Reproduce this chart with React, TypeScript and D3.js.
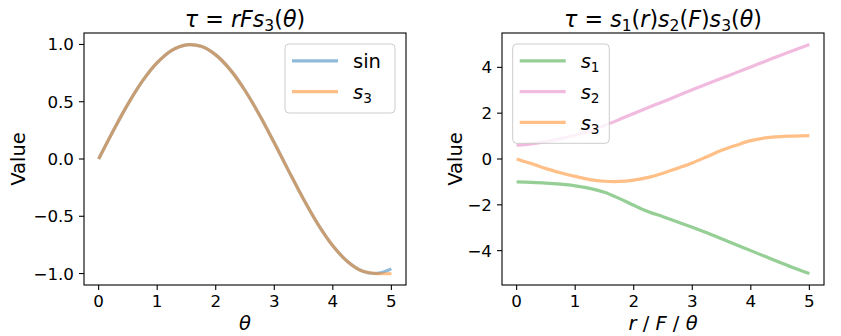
import React from "react";
import * as d3 from "d3";

// ---------- data ----------
const xValues = [0, 0.25, 0.5, 0.75, 1, 1.25, 1.5, 1.75, 2, 2.25, 2.5, 2.75, 3, 3.25, 3.5, 3.75, 4, 4.25, 4.5, 4.75, 5];
const sinValues = [0, 0.247, 0.479, 0.682, 0.841, 0.949, 0.997, 0.984, 0.909, 0.778, 0.598, 0.382, 0.141, -0.108, -0.351, -0.572, -0.757, -0.895, -0.978, -0.999, -0.959];
const s3LeftValues = [0, 0.247, 0.479, 0.682, 0.841, 0.949, 0.997, 0.984, 0.909, 0.778, 0.598, 0.382, 0.141, -0.108, -0.351, -0.572, -0.757, -0.895, -0.978, -1.0, -1.0];
const s1Values = [-1.0, -1.02, -1.05, -1.1, -1.17, -1.28, -1.45, -1.72, -2.02, -2.3, -2.52, -2.75, -2.98, -3.22, -3.48, -3.74, -4.0, -4.26, -4.52, -4.77, -5.0];
const s2Values = [0.6, 0.66, 0.76, 0.89, 1.04, 1.22, 1.46, 1.72, 1.99, 2.25, 2.5, 2.76, 3.02, 3.27, 3.52, 3.77, 4.02, 4.27, 4.52, 4.76, 5.0];
const s3RightValues = [0.0, -0.2, -0.42, -0.6, -0.76, -0.9, -0.97, -0.98, -0.92, -0.8, -0.62, -0.4, -0.17, 0.1, 0.38, 0.6, 0.8, 0.92, 0.98, 1.0, 1.02];

const xTicks = [0, 1, 2, 3, 4, 5];
const leftYTicks = [-1, -0.5, 0, 0.5, 1];
const rightYTicks = [-4, -2, 0, 2, 4];

const BLUE = "#1f77b4";
const ORANGE = "#ff7f0e";
const GREEN = "#2ca02c";
const PINK = "#e377c2";

const FONT = "DejaVu Sans";

type Seg = { t: string; it?: boolean; sub?: boolean };

function MathText({ x, y, size, segs, anchor = "middle" }: { x: number; y: number; size: number; segs: Seg[]; anchor?: string }) {
  const out: React.ReactNode[] = [];
  let inSub = false;
  segs.forEach((s, i) => {
    let dy = 0;
    if (s.sub && !inSub) { dy = size * 0.2; inSub = true; }
    else if (!s.sub && inSub) { dy = -size * 0.2; inSub = false; }
    out.push(
      <tspan key={i} dy={dy} fontStyle={s.it ? "italic" : "normal"} fontSize={s.sub ? size * 0.7 : size}>
        {s.t}
      </tspan>
    );
  });
  return (
    <text x={x} y={y} textAnchor={anchor as any} fontFamily={FONT} fontSize={size} fill="#000" style={{ whiteSpace: "pre" }}>
      {out}
    </text>
  );
}

type Series = { vals: number[]; color: string };

function Panel({
  x0, x1, y0, y1, yDomain, yTicks, fmt, series, title, xlabel, ylabelX, legend, legendBox,
}: {
  x0: number; x1: number; y0: number; y1: number; yDomain: [number, number]; yTicks: number[];
  fmt: (v: number) => string; series: Series[]; title: Seg[]; xlabel: Seg[]; ylabelX: number;
  legend: { label: Seg[]; color: string }[]; legendBox: { x: number; y: number; w: number; h: number };
}) {
  const xs = d3.scaleLinear().domain([-0.25, 5.25]).range([x0, x1]);
  const ys = d3.scaleLinear().domain(yDomain).range([y1, y0]);
  const line = d3.line<number>()
    .x((_, i) => xs(xValues[i]))
    .y((d) => ys(d))
    .curve(d3.curveCatmullRom);
  const tickFs = 16.7;
  const cx = (x0 + x1) / 2;
  return (
    <g>
      {series.map((s, i) => (
        <path key={i} d={line(s.vals) || ""} fill="none" stroke={s.color} strokeOpacity={0.5} strokeWidth={3.2} />
      ))}
      <rect x={x0} y={y0} width={x1 - x0} height={y1 - y0} fill="none" stroke="#000" strokeWidth={1.1} />
      {xTicks.map((t) => (
        <g key={"x" + t}>
          <line x1={xs(t)} x2={xs(t)} y1={y1} y2={y1 + 5} stroke="#000" strokeWidth={1.1} />
          <text x={xs(t)} y={y1 + 21.5} textAnchor="middle" fontFamily={FONT} fontSize={tickFs}>{String(t)}</text>
        </g>
      ))}
      {yTicks.map((t) => (
        <g key={"y" + t}>
          <line x1={x0 - 5} x2={x0} y1={ys(t)} y2={ys(t)} stroke="#000" strokeWidth={1.1} />
          <text x={x0 - 10} y={ys(t) + 6} textAnchor="end" fontFamily={FONT} fontSize={tickFs}>{fmt(t)}</text>
        </g>
      ))}
      <text transform={`translate(${ylabelX},${(y0 + y1) / 2}) rotate(-90)`} textAnchor="middle" fontFamily={FONT} fontSize={19.5}>Value</text>
      <MathText x={cx} y={y1 + 45} size={19.5} segs={xlabel} />
      <MathText x={cx} y={27} size={22.2} segs={title} />
      <rect x={legendBox.x} y={legendBox.y} width={legendBox.w} height={legendBox.h} rx={4} fill="#fff" fillOpacity={0.8} stroke="#cccccc" strokeWidth={1} />
      {legend.map((l, i) => {
        const ly = legendBox.y + 16.8 + i * 30.8;
        return (
          <g key={i}>
            <line x1={legendBox.x + 7} x2={legendBox.x + 53} y1={ly} y2={ly} stroke={l.color} strokeOpacity={0.5} strokeWidth={3.2} />
            <MathText x={legendBox.x + 68} y={ly + 7.5} size={19.5} segs={l.label} anchor="start" />
          </g>
        );
      })}
    </g>
  );
}

export default function App() {
  const fmt1 = (v: number) => (v < 0 ? "\u2212" : "") + Math.abs(v).toFixed(1);
  const fmt0 = (v: number) => (v < 0 ? "\u2212" : "") + Math.abs(v).toFixed(0);
  return (
    <svg width={841} height={336} style={{ position: "absolute", left: 0, top: 0, background: "#fff" }}>
      <rect width={841} height={336} fill="#fff" />
      <Panel
        x0={84} x1={406} y0={33} y1={285}
        yDomain={[-1.1, 1.1]} yTicks={leftYTicks} fmt={fmt1}
        series={[{ vals: sinValues, color: BLUE }, { vals: s3LeftValues, color: ORANGE }]}
        title={[{ t: "τ", it: true }, { t: " = " }, { t: "rFs", it: true }, { t: "3", sub: true }, { t: "(" }, { t: "θ", it: true }, { t: ")" }]}
        xlabel={[{ t: "θ", it: true }]}
        ylabelX={25}
        legend={[
          { label: [{ t: "sin" }], color: BLUE },
          { label: [{ t: "s", it: true }, { t: "3", sub: true }], color: ORANGE },
        ]}
        legendBox={{ x: 285, y: 44, w: 110, h: 69 }}
      />
      <Panel
        x0={502} x1={824} y0={33} y1={285}
        yDomain={[-5.5, 5.5]} yTicks={rightYTicks} fmt={fmt0}
        series={[{ vals: s1Values, color: GREEN }, { vals: s2Values, color: PINK }, { vals: s3RightValues, color: ORANGE }]}
        title={[
          { t: "τ", it: true }, { t: " = " }, { t: "s", it: true }, { t: "1", sub: true }, { t: "(" }, { t: "r", it: true }, { t: ")" },
          { t: "s", it: true }, { t: "2", sub: true }, { t: "(" }, { t: "F", it: true }, { t: ")" },
          { t: "s", it: true }, { t: "3", sub: true }, { t: "(" }, { t: "θ", it: true }, { t: ")" },
        ]}
        xlabel={[{ t: "r", it: true }, { t: " / " }, { t: "F", it: true }, { t: " / " }, { t: "θ", it: true }]}
        ylabelX={461.7}
        legend={[
          { label: [{ t: "s", it: true }, { t: "1", sub: true }], color: GREEN },
          { label: [{ t: "s", it: true }, { t: "2", sub: true }], color: PINK },
          { label: [{ t: "s", it: true }, { t: "3", sub: true }], color: ORANGE },
        ]}
        legendBox={{ x: 512.7, y: 44, w: 96.6, h: 99.3 }}
      />
    </svg>
  );
}
